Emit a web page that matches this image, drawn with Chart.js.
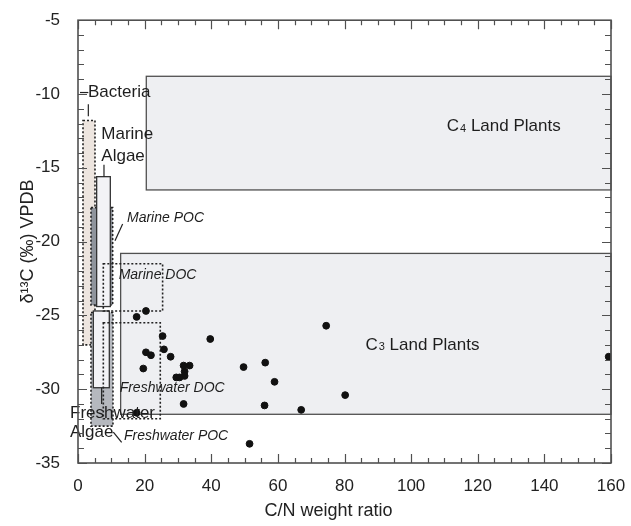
<!DOCTYPE html>
<html>
<head>
<meta charset="utf-8">
<script src="https://cdn.jsdelivr.net/npm/chart.js@4.4.1/dist/chart.umd.min.js"></script>
<style>
  html, body { margin: 0; padding: 0; background: #fff; }
  #wrap { width: 631px; height: 526px; }
</style>
</head>
<body>
<div id="wrap"><canvas id="chart" width="631" height="526"></canvas></div>
<script>
// ─── DATA ─────────────────────────────────────────────────────────────
// samples
const cnRatio = [20.4, 17.6, 25.4, 39.7, 20.4, 21.9, 25.8, 27.8, 19.6, 31.7, 33.5, 32.0, 32.0,
                 29.5, 30.5, 31.7, 17.6, 74.5, 49.7, 56.2, 59.0, 80.2, 56.0, 67.0, 51.5, 159.3];
const d13C    = [-24.7, -25.1, -26.4, -26.6, -27.5, -27.7, -27.3, -27.8, -28.6, -28.4, -28.4, -28.8, -29.1,
                 -29.2, -29.2, -31.0, -31.6, -25.7, -28.5, -28.2, -29.5, -30.4, -31.1, -31.4, -33.7, -27.8];

// source fields : C/N range and d13C range
const fieldNames = ['C4 Land Plants', 'C3 Land Plants', 'Bacteria', 'Marine POC', 'Marine Algae',
                    'Freshwater POC', 'Freshwater Algae', 'Marine DOC', 'Freshwater DOC'];
const fieldCN  = [[20.5, 160], [12.8, 160], [1.5, 5.1], [3.9, 10.4], [5.6, 9.7],
                  [3.9, 10.5], [4.6, 9.4], [7.6, 25.4], [7.6, 24.7]];
const fieldD13 = [[-16.5, -8.8], [-31.7, -20.8], [-27.0, -11.8], [-24.3, -17.7], [-24.4, -15.6],
                  [-32.5, -24.8], [-29.9, -24.7], [-24.7, -21.5], [-32.0, -25.5]];

const xRange = [0, 160];
const yRange = [-35, -5];

// ─── STYLE ────────────────────────────────────────────────────────────
const FONT = '"Liberation Sans", Arial, Helvetica, sans-serif';
const AXIS = '#505050';

const fieldStyle = {
  'C4 Land Plants':   { fill: '#eeeff2', line: AXIS, width: 1.3 },
  'C3 Land Plants':   { fill: '#eeeff2', line: AXIS, width: 1.3 },
  'Bacteria':         { fill: '#ede5df', line: '#222', width: 1.6, dash: [2, 2] },
  'Marine POC':       { fill: '#8f949c', line: '#222', width: 1.6, dash: [2, 2] },
  'Marine Algae':     { fill: '#f3f3f6', line: '#333', width: 1.3 },
  'Freshwater POC':   { fill: '#b5b8be', line: '#222', width: 1.6, dash: [2, 2] },
  'Freshwater Algae': { fill: '#f3f3f6', line: '#333', width: 1.3 },
  'Marine DOC':       { line: '#222', width: 1.6, dash: [2, 2] },
  'Freshwater DOC':   { line: '#222', width: 1.6, dash: [2, 2] },
};

// labels placed at data coords (left edge, vertical middle)
const labels = [
  { text: 'Bacteria',   x: 3.0,  y: -9.9,  size: 17 },
  { text: 'Marine',     x: 7.0,  y: -12.7, size: 17 },
  { text: 'Algae',      x: 7.0,  y: -14.2, size: 17 },
  { text: 'Marine POC', x: 14.7, y: -18.4, size: 14, italic: true },
  { text: 'Marine DOC', x: 12.2, y: -22.3, size: 14, italic: true },
  { text: 'Freshwater DOC', x: 12.5, y: -29.9, size: 14, italic: true },
  { text: 'Freshwater', x: -2.4, y: -31.6, size: 17 },
  { text: 'Algae',      x: -2.4, y: -32.9, size: 17 },
  { text: 'Freshwater POC', x: 13.8, y: -33.2, size: 14, italic: true },
  { text: 'C', sub: '4', rest: ' Land Plants', x: 110.7, y: -12.2, size: 17 },
  { text: 'C', sub: '3', rest: ' Land Plants', x: 86.3,  y: -27.0, size: 17 },
];

// leader lines (data coords)
const leaders = [
  [[0.6, -9.9], [3.1, -9.9]],
  [[3.1, -10.7], [3.1, -11.5]],
  [[7.8, -14.8], [7.8, -15.6]],
  [[11.1, -19.95], [13.4, -18.8]],
  [[7.1, -29.9], [7.1, -31.0]],
  [[10.6, -32.9], [13.1, -33.6]],
];

const xTitle = 'C/N weight ratio';

// ─── PLUGIN ───────────────────────────────────────────────────────────
const fieldsPlugin = {
  id: 'fields',
  beforeDatasetsDraw(chart) {
    const { ctx, scales: { x, y } } = chart;
    fieldNames.forEach((name, i) => {
      const st = fieldStyle[name];
      const x0 = x.getPixelForValue(fieldCN[i][0]);
      const x1 = x.getPixelForValue(fieldCN[i][1]);
      const y0 = y.getPixelForValue(fieldD13[i][1]);
      const y1 = y.getPixelForValue(fieldD13[i][0]);
      ctx.save();
      if (st.fill) { ctx.fillStyle = st.fill; ctx.fillRect(x0, y0, x1 - x0, y1 - y0); }
      ctx.strokeStyle = st.line;
      ctx.lineWidth = st.width;
      ctx.setLineDash(st.dash || []);
      ctx.strokeRect(x0, y0, x1 - x0, y1 - y0);
      ctx.restore();
    });
  },
  afterDatasetsDraw(chart) {
    const { ctx, chartArea: a, scales: { x, y } } = chart;
    ctx.save();

    // leaders
    ctx.strokeStyle = '#222';
    ctx.lineWidth = 1.2;
    leaders.forEach(([p, q]) => {
      ctx.beginPath();
      ctx.moveTo(x.getPixelForValue(p[0]), y.getPixelForValue(p[1]));
      ctx.lineTo(x.getPixelForValue(q[0]), y.getPixelForValue(q[1]));
      ctx.stroke();
    });

    // labels
    ctx.fillStyle = '#1e1e1e';
    ctx.textBaseline = 'middle';
    ctx.textAlign = 'left';
    labels.forEach(l => {
      let px = x.getPixelForValue(l.x);
      const py = y.getPixelForValue(l.y);
      ctx.font = `${l.italic ? 'italic ' : ''}${l.size}px ${FONT}`;
      ctx.fillText(l.text, px, py);
      if (l.sub) {
        px += ctx.measureText(l.text).width + 1;
        ctx.font = `${Math.round(l.size * 0.65)}px ${FONT}`;
        ctx.fillText(l.sub, px, py + 2);
        px += ctx.measureText(l.sub).width;
        ctx.font = `${l.size}px ${FONT}`;
        ctx.fillText(l.rest, px, py);
      }
    });

    // x axis title (sits a little left of the plot centre in the original)
    ctx.font = `18px ${FONT}`;
    ctx.fillStyle = '#222';
    ctx.textAlign = 'center';
    ctx.fillText(xTitle, (a.left + a.right) / 2 - 16, 511);

    // frame
    ctx.strokeStyle = AXIS;
    ctx.lineWidth = 1.6;
    ctx.strokeRect(a.left, a.top, a.right - a.left, a.bottom - a.top);

    // ticks pointing inward on all four sides
    ctx.lineWidth = 1.2;
    ctx.beginPath();
    for (let v = xRange[0]; v <= xRange[1]; v += 5) {
      const px = Math.round(x.getPixelForValue(v)) + 0.5;
      const len = v % 20 === 0 ? 9 : 5;
      ctx.moveTo(px, a.bottom); ctx.lineTo(px, a.bottom - len);
      ctx.moveTo(px, a.top); ctx.lineTo(px, a.top + len);
    }
    for (let v = yRange[0]; v <= yRange[1]; v += 1) {
      const py = Math.round(y.getPixelForValue(v)) + 0.5;
      const len = v % 5 === 0 ? 9 : 6;
      ctx.moveTo(a.left, py); ctx.lineTo(a.left + len, py);
      ctx.moveTo(a.right, py); ctx.lineTo(a.right - len, py);
    }
    ctx.stroke();
    ctx.restore();
  },
};

// ─── CHART ────────────────────────────────────────────────────────────
new Chart(document.getElementById('chart'), {
  type: 'scatter',
  data: {
    datasets: [{
      data: cnRatio.map((v, i) => ({ x: v, y: d13C[i] })),
      backgroundColor: '#111',
      borderColor: '#111',
      pointRadius: 3.4,
      pointHoverRadius: 3.4,
    }],
  },
  options: {
    responsive: false,
    animation: false,
    events: [],
    layout: { padding: { left: 0, top: 19, right: 20, bottom: 0 } },
    plugins: { legend: { display: false }, tooltip: { enabled: false } },
    scales: {
      x: {
        type: 'linear',
        min: xRange[0], max: xRange[1],
        grid: { display: false },
        border: { display: false },
        ticks: { stepSize: 20, color: '#222', padding: 5, font: { family: FONT, size: 17 } },
        afterFit: s => { s.height = 63; },
      },
      y: {
        type: 'linear',
        min: yRange[0], max: yRange[1],
        grid: { display: false },
        border: { display: false },
        ticks: { stepSize: 5, color: '#222', padding: 10, font: { family: FONT, size: 17 } },
        title: { display: true, text: 'δ¹³C (‰) VPDB', color: '#222',
                 padding: { top: 17, bottom: 0 }, font: { family: FONT, size: 18 } },
        afterFit: s => { s.width = 78; },
      },
    },
  },
  plugins: [fieldsPlugin],
});
</script>
</body>
</html>
